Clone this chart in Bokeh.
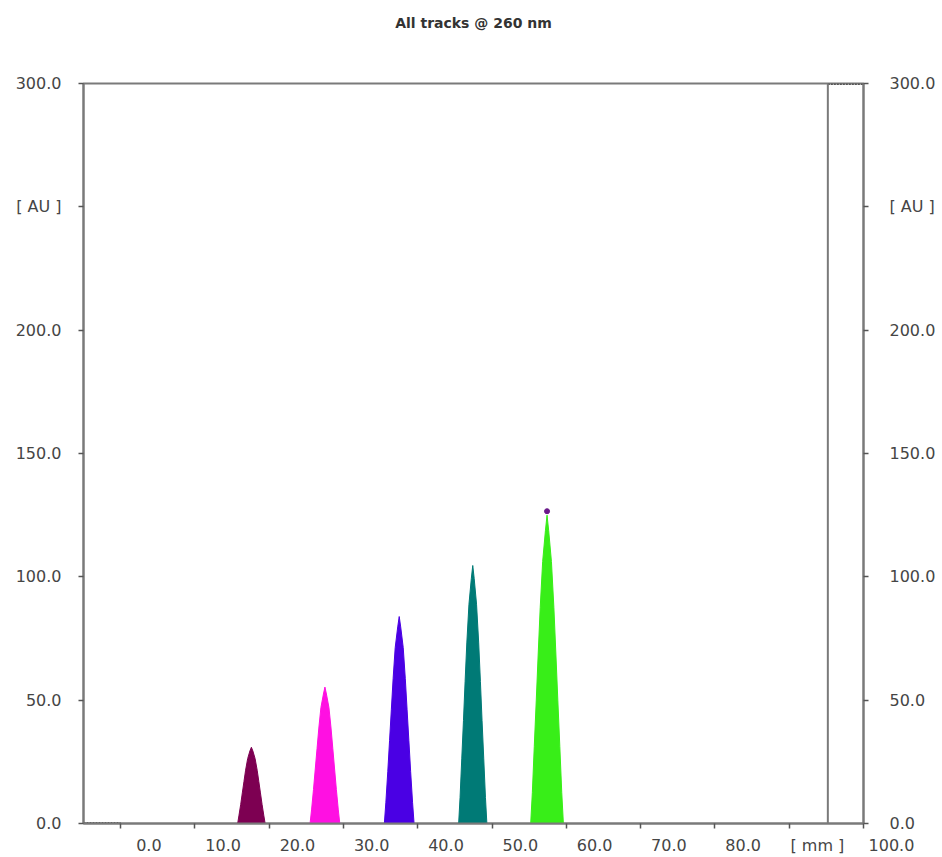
from bokeh.plotting import figure
from bokeh.models import LinearAxis, FixedTicker, Span, Range1d
from bokeh.embed import file_html
from bokeh.resources import INLINE

title_text = "All tracks @ 260 nm"

# x tick positions (mm) and their printed labels
x_ticks = [0, 10, 20, 30, 40, 50, 60, 70, 80, 90, 100]
x_tick_labels = ["0.0", "10.0", "20.0", "30.0", "40.0", "50.0", "60.0", "70.0", "80.0", "[ mm ]", "100.0"]

# y ticks (AU)
y_ticks = [0, 50, 100, 150, 200, 250, 300]
y_tick_labels = ["0.0", "50.0", "100.0", "150.0", "200.0", "[ AU ]", "300.0"]

# traces (mm, AU)
track1_x = [15.75, 15.92, 16.16, 16.38, 16.60, 16.82, 17.10, 17.40, 17.6, 17.80, 18.10, 18.38, 18.60, 18.82, 19.04, 19.28, 19.45]
track1_y = [0, 3.1, 7.7, 12.4, 17.0, 21.6, 26.3, 29.4, 30.9, 29.4, 26.3, 21.6, 17.0, 12.4, 7.7, 3.1, 0]
track2_x = [25.5, 25.70, 25.96, 26.20, 26.44, 26.68, 26.96, 27.30, 27.5, 27.70, 28.04, 28.32, 28.56, 28.80, 29.04, 29.30, 29.5]
track2_y = [0, 5.5, 13.8, 22.1, 30.4, 38.7, 47.0, 52.5, 55.3, 52.5, 47.0, 38.7, 30.4, 22.1, 13.8, 5.5, 0]
track3_x = [35.5, 35.70, 35.96, 36.20, 36.44, 36.68, 36.96, 37.30, 37.5, 37.70, 38.04, 38.32, 38.56, 38.80, 39.04, 39.30, 39.5]
track3_y = [0, 8.4, 21.0, 33.6, 46.1, 58.7, 71.3, 79.7, 83.9, 79.7, 71.3, 58.7, 46.1, 33.6, 21.0, 8.4, 0]
track4_x = [45.5, 45.69, 45.92, 46.15, 46.37, 46.60, 46.89, 47.21, 47.4, 47.59, 47.91, 48.20, 48.43, 48.65, 48.88, 49.11, 49.3]
track4_y = [0, 10.5, 26.2, 41.8, 57.5, 73.2, 88.9, 99.4, 104.6, 99.4, 88.9, 73.2, 57.5, 41.8, 26.2, 10.5, 0]
track5_x = [55.2, 55.42, 55.68, 55.95, 56.21, 56.48, 56.81, 57.18, 57.4, 57.62, 57.99, 58.32, 58.59, 58.85, 59.12, 59.38, 59.6]
track5_y = [0, 12.5, 31.2, 50.0, 68.7, 87.5, 106.2, 118.7, 125.0, 118.7, 106.2, 87.5, 68.7, 50.0, 31.2, 12.5, 0]
track_colors = ["#7d0052", "#ff10e2", "#4a00e4", "#007a76", "#38ee18"]

peak_marker_x = [57.4]
peak_marker_y = [126.6]

front_line_x = 95.2
base_stub_x = [-5, 0]
base_stub_y = [0, 0]
top_stub_x = [95.2, 100]
top_stub_y = [300, 300]

x_start, x_end = -5, 100
y_start, y_end = 0, 300

# the printed x labels sit right of their ticks by this much (mm)
label_shift = 3.8

FONT = "DejaVu Sans"
AXIS_COL = "#7a7a7a"
TEXT_COL = "#454545"

p = figure(width=942, height=857, output_backend="svg", toolbar_location=None,
           x_range=Range1d(x_start, x_end), y_range=Range1d(y_start, y_end),
           min_border_left=83, min_border_right=79, min_border_top=83, min_border_bottom=34,
           x_axis_location="below", y_axis_location="left")
p.extra_x_ranges = {"lab": Range1d(x_start - label_shift, x_end - label_shift)}
p.background_fill_color = "white"
p.border_fill_color = "white"
p.grid.visible = False
p.outline_line_color = AXIS_COL
p.outline_line_width = 2

xa = p.below[0]
ya = p.left[0]

# title as the label of an empty top axis
ta = LinearAxis(ticker=FixedTicker(ticks=[]), axis_label=title_text)
ta.axis_line_color = None
ta.major_tick_line_color = None
ta.minor_tick_line_color = None
ta.major_tick_out = 0
ta.major_tick_in = 0
ta.minor_tick_out = 0
ta.major_label_standoff = 0
ta.major_label_text_font_size = "0px"
ta.axis_label_standoff = 53
ta.axis_label_text_font = FONT
ta.axis_label_text_font_size = "14px"
ta.axis_label_text_font_style = "bold"
ta.axis_label_text_color = "#333333"
p.add_layout(ta, "above")

# bottom axis: ticks only
xa.ticker = FixedTicker(ticks=x_ticks)
xa.major_label_text_color = None
xa.major_label_text_font_size = "0px"
xa.major_label_standoff = 0
xa.axis_line_color = AXIS_COL
xa.axis_line_width = 2
xa.major_tick_line_color = "#555555"
xa.major_tick_line_width = 1.5
xa.major_tick_out = 5
xa.major_tick_in = 0
xa.minor_tick_line_color = None
xa.minor_tick_out = 0

# bottom labels: a second axis whose range is shifted by label_shift
lab_pos = list(x_ticks[:-1]) + [x_end - label_shift - 0.001]
lab_text = list(x_tick_labels[:-1]) + ["\u00a0" * 11 + x_tick_labels[-1]]
la = LinearAxis(x_range_name="lab", ticker=FixedTicker(ticks=lab_pos))
la.major_label_overrides = {pos: t for pos, t in zip(lab_pos, lab_text)}
la.axis_line_color = None
la.major_tick_line_color = None
la.minor_tick_line_color = None
la.major_tick_out = 0
la.major_tick_in = 0
la.minor_tick_out = 0
la.major_label_standoff = 7
la.major_label_text_font = FONT
la.major_label_text_font_size = "16px"
la.major_label_text_color = TEXT_COL
p.add_layout(la, "below")

overrides = {t: l for t, l in zip(y_ticks, y_tick_labels)}

def style_y(ax, standoff):
    ax.ticker = FixedTicker(ticks=y_ticks)
    ax.major_label_overrides = overrides
    ax.major_label_text_font = FONT
    ax.major_label_text_font_size = "16px"
    ax.major_label_text_color = TEXT_COL
    ax.major_label_standoff = standoff
    ax.axis_line_color = AXIS_COL
    ax.axis_line_width = 2
    ax.major_tick_line_color = "#555555"
    ax.major_tick_line_width = 1.5
    ax.major_tick_out = 5
    ax.major_tick_in = 0
    ax.minor_tick_line_color = None
    ax.minor_tick_out = 0

style_y(ya, 17)
ra = LinearAxis()
style_y(ra, 21)
p.add_layout(ra, "right")

# traces
tracks = [(track1_x, track1_y), (track2_x, track2_y), (track3_x, track3_y),
          (track4_x, track4_y), (track5_x, track5_y)]
for (tx, ty), col in zip(tracks, track_colors):
    p.patch(tx, ty, fill_color=col, line_color=col, line_width=1)

p.scatter(peak_marker_x, peak_marker_y, size=5, color="#6a1a8a")

p.line(base_stub_x, base_stub_y, line_color="#555555", line_width=3, line_dash="2 1")
p.line(top_stub_x, top_stub_y, line_color="#555555", line_width=3, line_dash="2 1")

p.add_layout(Span(location=front_line_x, dimension="height", line_color=AXIS_COL, line_width=2))

open("out.html", "w").write(file_html(p, INLINE))
